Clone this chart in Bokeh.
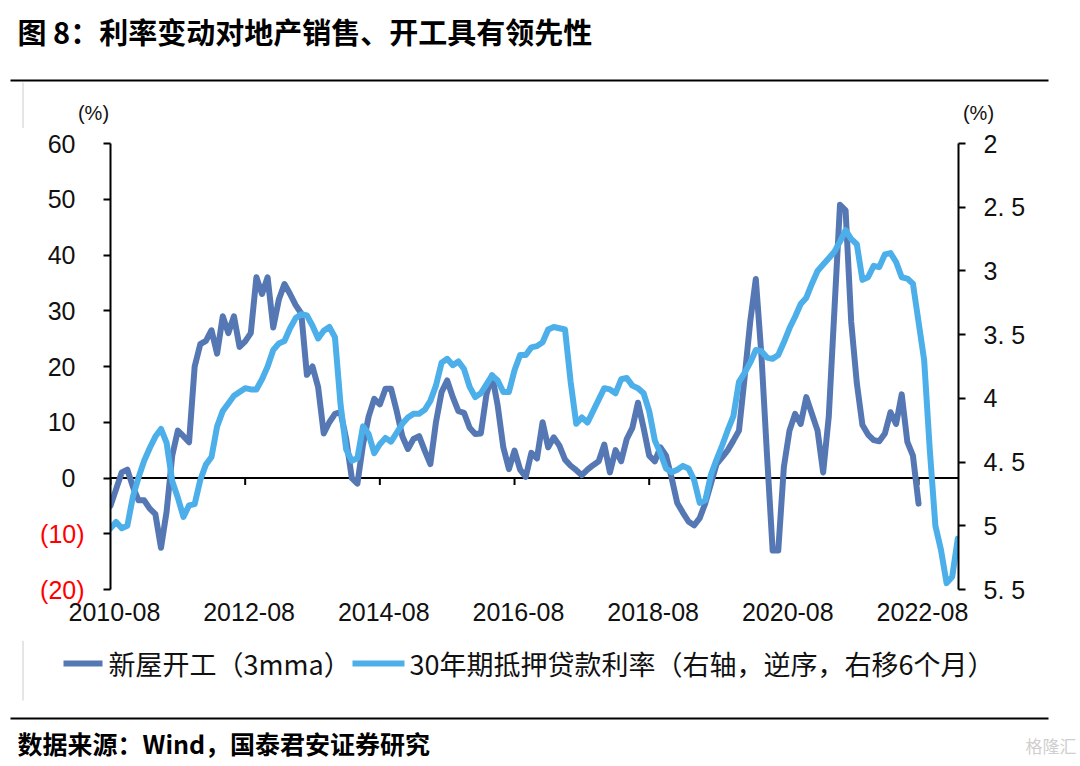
from bokeh.plotting import figure
from bokeh.layouts import column
from bokeh.models import Range1d, LinearAxis, FixedTicker, Span, Label
from bokeh.embed import file_html
from bokeh.resources import INLINE
from bokeh.core.properties import value

# ---------------- data ----------------
start_month = "2010-08"
# New housing starts, 3mma, YoY %  (monthly from 2010-08)
starts = [
    -5, -2, 1, 1.5, -1.6, -4, -4, -5.5, -6.5, -12.5,
    -6, 4, 8.5, 7.5, 6.4, 20, 24, 24.6, 26.5, 22.3,
    29, 26, 29, 23.5, 24.5, 26, 36, 33, 36, 27,
    32, 34.8, 33, 31, 29.5, 18.5, 20, 16.3, 8, 10,
    11.5, 11.8, 7, 0, -1, 6, 11, 14.2, 13.2, 16,
    16, 12, 7.5, 5.2, 7, 7.5, 4.9, 2.5, 10, 15.4,
    17.5, 14.5, 12, 11.7, 9, 7.9, 8, 15, 18.4, 13,
    5.5, 1.6, 4.9, 1.5, 0.2, 4.5, 3.5, 10, 5.5, 7.3,
    5.8, 3.3, 2.2, 1.4, 0.5, 1.5, 2.3, 3, 6, 1,
    5, 3, 7, 9, 13.5, 9, 4, 3, 5.5, 4,
    0, -4.5, -6.2, -7.8, -8.5, -7.2, -4.5, -1, 2.5, 3.7,
    5, 6.7, 8.5, 18, 28, 35.7, 22, 4, -13, -13,
    2, 8.5, 11.5, 9.7, 14.5, 11.5, 8.5, 1, 11, 30,
    49, 48, 28, 17, 9.5, 7.8, 6.8, 6.6, 8, 11.8,
    9.7, 15, 6.5, 4, -4.6,
]
# 30-year mortgage rate, %, shifted 6 months right (monthly from 2010-08)
mortgage = [
    5.02, 4.97, 5.02, 5.0, 4.77, 4.62, 4.49, 4.39, 4.30, 4.24,
    4.35, 4.65, 4.78, 4.93, 4.84, 4.83, 4.64, 4.52, 4.46, 4.22,
    4.10, 4.04, 3.98, 3.95, 3.92, 3.93, 3.93, 3.85, 3.75, 3.62,
    3.57, 3.55, 3.45, 3.37, 3.34, 3.35, 3.43, 3.53, 3.47, 3.44,
    3.52, 4.05, 4.40, 4.49, 4.47, 4.22, 4.28, 4.43, 4.36, 4.31,
    4.34, 4.27, 4.20, 4.15, 4.12, 4.12, 4.09, 4.02, 3.90, 3.72,
    3.69, 3.74, 3.71, 3.77, 3.91, 3.99, 3.96, 3.89, 3.82, 3.86,
    3.95, 3.95, 3.78, 3.66, 3.66, 3.60, 3.59, 3.56, 3.46, 3.44,
    3.45, 3.46, 3.87, 4.20, 4.15, 4.19, 4.10, 4.01, 3.92, 3.93,
    3.96, 3.85, 3.84, 3.90, 3.92, 3.96, 4.10, 4.33, 4.43, 4.55,
    4.58, 4.56, 4.53, 4.55, 4.64, 4.82, 4.80, 4.60, 4.48, 4.37,
    4.25, 4.14, 3.87, 3.80, 3.72, 3.62, 3.63, 3.68, 3.69, 3.66,
    3.56, 3.45, 3.36, 3.26, 3.21, 3.10, 3.00, 2.95, 2.90, 2.85,
    2.77, 2.68, 2.75, 2.79, 3.07, 3.05, 2.96, 2.97, 2.87, 2.86,
    2.93, 3.05, 3.06, 3.10, 3.40, 3.70, 4.40, 5.00, 5.19, 5.45,
    5.40, 5.10,
]
x_tick_months = [0, 24, 48, 72, 96, 120, 144]
x_tick_labels = ["2010-08", "2012-08", "2014-08", "2016-08", "2018-08", "2020-08", "2022-08"]
left_ticks = [-20, -10, 0, 10, 20, 30, 40, 50, 60]
left_labels = ["(20)", "(10)", "0", "10", "20", "30", "40", "50", "60"]
right_ticks = [2, 2.5, 3, 3.5, 4, 4.5, 5, 5.5]
right_labels = ["2", "2. 5", "3", "3. 5", "4", "4. 5", "5", "5. 5"]

title_text = "图 8：利率变动对地产销售、开工具有领先性"
source_text = "数据来源：Wind，国泰君安证券研究"
legend_names = ["新屋开工（3mma）", "30年期抵押贷款利率（右轴，逆序，右移6个月）"]
unit_text = "(%)"
watermark = "格隆汇"

DARK = "#5578B4"
LIGHT = "#4CAFEA"
RED = "#FF0000"
TXT = "#111111"
FAINT = "#cccccc"
CJK = "Noto Sans CJK SC"
NUM = "Liberation Sans"

# ---------------- layout (page pixels) ----------------
W = 1080
H_HEAD, H_CHART, H_FOOT = 128, 512, 124
FL, FR, FT, FB = 109, 958, 143, 589          # plot frame on the page
XE = 151.12
YMIN, YMAX = -20, 60


def strip(height):
    f = figure(width=W, height=height, output_backend="svg", toolbar_location=None,
               x_range=Range1d(0, W), y_range=Range1d(height, 0),
               x_axis_location=None, y_axis_location=None, min_border=0,
               frame_align=False)
    f.outline_line_color = None
    f.xgrid.visible = False
    f.ygrid.visible = False
    return f


# ---- header ----
head = strip(H_HEAD)
head.text(x=[17], y=[30], text=[title_text], text_font=value(CJK), text_font_size="29px",
          text_font_style="bold", text_baseline="middle", text_align="left", text_color="#000000")
head.segment(x0=[10], y0=[80], x1=[1048], y1=[80], line_color="#000000", line_width=2)
head.segment(x0=[22.5], y0=[82], x1=[22.5], y1=[H_HEAD], line_color=FAINT, line_width=1)
head.text(x=[93, 978], y=[112, 112], text=[unit_text, unit_text], text_font=value(NUM),
          text_font_size="20px", text_baseline="middle", text_align="center", text_color=TXT)

# ---- chart ----
p = figure(width=W, height=H_CHART, output_backend="svg", toolbar_location=None,
           x_range=Range1d(0, XE), y_range=Range1d(YMIN, YMAX),
           x_axis_location=None, y_axis_location=None,
           min_border_left=FL, min_border_right=W - FR,
           min_border_top=FT - H_HEAD, min_border_bottom=H_HEAD + H_CHART - FB,
           frame_align=False)
p.outline_line_color = None
p.xgrid.visible = False
p.ygrid.visible = False
p.extra_y_ranges = {"rate": Range1d(5.5, 2.0)}

la = LinearAxis(ticker=FixedTicker(ticks=left_ticks))
la.major_label_overrides = {t: (l if t >= 0 else "") for t, l in zip(left_ticks, left_labels)}
ra = LinearAxis(y_range_name="rate", ticker=FixedTicker(ticks=right_ticks))
ra.major_label_overrides = {t: l for t, l in zip(right_ticks, right_labels)}
for ax, standoff in ((la, 28), (ra, 18)):
    ax.axis_line_color = "black"
    ax.axis_line_width = 2
    ax.major_tick_line_color = "black"
    ax.major_tick_line_width = 2
    ax.major_tick_out = 7
    ax.major_tick_in = 0
    ax.minor_tick_out = 0
    ax.minor_tick_in = 0
    ax.major_label_text_font = NUM
    ax.major_label_text_font_size = "25px"
    ax.major_label_text_color = TXT
    ax.major_label_standoff = standoff
p.add_layout(la, "left")
p.add_layout(ra, "right")

lab_ticks = [m + 0.7 for m in x_tick_months]
ba = LinearAxis(ticker=FixedTicker(ticks=lab_ticks))
ba.major_label_overrides = {t: l for t, l in zip(lab_ticks, x_tick_labels)}
ba.axis_line_color = None
ba.major_tick_line_color = None
ba.minor_tick_line_color = None
ba.major_tick_out = 0
ba.major_tick_in = 0
ba.major_label_text_font = NUM
ba.major_label_text_font_size = "25px"
ba.major_label_text_color = TXT
ba.major_label_standoff = 13
p.add_layout(ba, "below")

# zero line with its ticks
p.add_layout(Span(location=0, dimension="width", line_color="black", line_width=2, level="underlay"))
px_per_unit = (FB - FT) / (YMAX - YMIN)
p.segment(x0=x_tick_months, y0=[0] * len(x_tick_months), x1=x_tick_months,
          y1=[-7 / px_per_unit] * len(x_tick_months), line_color="black", line_width=2)

# series
p.line(x=list(range(len(starts))), y=starts, line_color=DARK, line_width=6,
       line_join="round", line_cap="round")
p.line(x=list(range(len(mortgage))), y=mortgage, y_range_name="rate", line_color=LIGHT,
       line_width=6, line_join="round", line_cap="round")

# red negative tick labels (placed in side panels so they are not clipped)
x_red = (83 - FL) / (FR - FL) * XE
for t, l, side in ((-20, "(20)", "left"), (-10, "(10)", "right")):
    p.add_layout(Label(x=x_red, y=t, text=l, text_align="right", text_baseline="middle",
                       text_font=NUM, text_font_size="25px", text_color=RED), side)

# ---- footer: legend, rule, source ----
foot = strip(H_FOOT)
oy = H_HEAD + H_CHART
ly = 663 - oy
foot.segment(x0=[63, 352], y0=[ly, ly], x1=[102, 404], y1=[ly, ly],
             line_color=[DARK, LIGHT], line_width=6)
foot.text(x=[108, 409], y=[ly, ly], text=legend_names, text_font=value(CJK),
          text_font_size="27px", text_baseline="middle", text_align="left", text_color=TXT)
foot.segment(x0=[22.5], y0=[0], x1=[22.5], y1=[700 - oy], line_color=FAINT, line_width=1)
foot.segment(x0=[10], y0=[718 - oy], x1=[1048], y1=[718 - oy],
             line_color="#000000", line_width=2)
foot.text(x=[17], y=[742 - oy], text=[source_text], text_font=value(CJK),
          text_font_size="25px", text_font_style="bold", text_baseline="middle",
          text_align="left", text_color="#000000")
foot.text(x=[1076], y=[745 - oy], text=[watermark], text_font=value(CJK),
          text_font_size="17px", text_baseline="middle", text_align="right", text_color="#cfcfcf")

layout = column(head, p, foot, spacing=0)
open("out.html", "w").write(file_html(layout, INLINE))
